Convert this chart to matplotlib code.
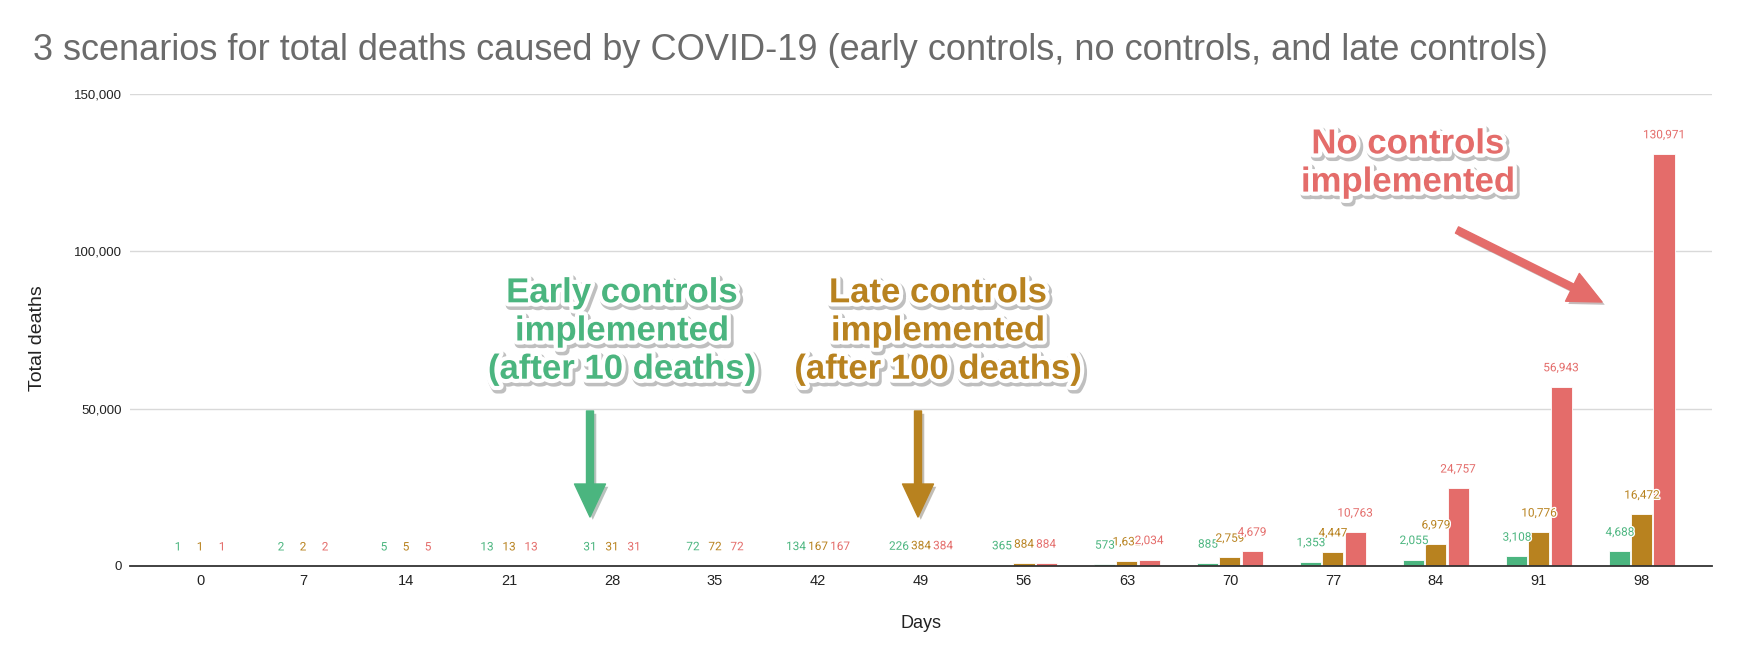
import numpy as np
import matplotlib
matplotlib.use('Agg')
import matplotlib.pyplot as plt
import matplotlib.patheffects as pe
from matplotlib.patches import FancyArrow
from matplotlib.transforms import IdentityTransform
from matplotlib.ticker import FuncFormatter, MultipleLocator

days = [0, 7, 14, 21, 28, 35, 42, 49, 56, 63, 70, 77, 84, 91, 98]
early = [1, 2, 5, 13, 31, 72, 134, 226, 365, 573, 885, 1353, 2055, 3108, 4688]
late = [1, 2, 5, 13, 31, 72, 167, 384, 884, 1632, 2759, 4447, 6979, 10776, 16472]
nocontrol = [1, 2, 5, 13, 31, 72, 167, 384, 884, 2034, 4679, 10763, 24757, 56943, 130971]

green = '#4bb57f'
gold = '#b8821f'
red = '#e46c6a'

W, H = 1743, 662
fig = plt.figure(figsize=(W / 100, H / 100), dpi=100)
ax = fig.add_axes([130 / W, 1 - 566 / H, (1712 - 130) / W, (566 - 94) / H])

ind = np.arange(len(days))
width = 0.204
off = 0.214

series = [(early, green), (late, gold), (nocontrol, red)]
for k, (vals, col) in enumerate(series):
    ax.bar(ind + (k - 1) * off, vals, width, color=col, edgecolor='white', linewidth=0.6, zorder=2)

# data labels, drawn series by series so red ends on top
for k, (vals, col) in enumerate(series):
    for i, v in enumerate(vals):
        ax.annotate('{:,}'.format(v), (ind[i] + (k - 1) * off, v), xytext=(0, 13.7),
                    textcoords='offset points', ha='center', va='center',
                    fontsize=8.5, family='Roboto', color=col, zorder=4,
                    path_effects=[pe.withStroke(linewidth=2, foreground='white')])

ax.set_xlim(-0.68, 14.68)
ax.set_ylim(0, 150000)
ax.set_xticks(ind)
ax.set_xticklabels([str(d) for d in days], fontsize=10.5, family='Liberation Sans', color='#222222')
ax.yaxis.set_major_locator(MultipleLocator(50000))
ax.yaxis.set_major_formatter(FuncFormatter(lambda v, p: '{:,}'.format(int(v))))
for t in ax.get_yticklabels():
    t.set_fontsize(9.5)
    t.set_family('Liberation Sans')
    t.set_color('#222222')
ax.tick_params(axis='both', length=0)
ax.tick_params(axis='y', pad=6)
ax.tick_params(axis='x', pad=6)

ax.set_axisbelow(True)
ax.yaxis.grid(True, color='#d9d9d9', linewidth=1)
for s in ['top', 'left', 'right']:
    ax.spines[s].set_visible(False)
ax.spines['bottom'].set_color('#333333')
ax.spines['bottom'].set_linewidth(1.3)
ax.spines['bottom'].set_zorder(3)

fig.text(33 / W, 1 - 50 / H, '3 scenarios for total deaths caused by COVID-19 (early controls, no controls, and late controls)',
         fontsize=26, family='Liberation Sans', color='#6b6b6b', ha='left', va='center')
fig.text(38 / W, 1 - 338 / H, 'Total deaths', rotation=90, fontsize=14, family='Liberation Sans',
         color='#222222', ha='center', va='center')
fig.text(921 / W, 1 - 623 / H, 'Days', fontsize=13, family='Liberation Sans',
         color='#222222', ha='center', va='center')

big_fx = [pe.Stroke(linewidth=7, foreground='#00000040', offset=(1.5, -2)),
          pe.Stroke(linewidth=6, foreground='white'), pe.Normal()]

def callout(x, y, txt, col):
    fig.text(x / W, 1 - y / H, txt, fontsize=25, family='Liberation Sans', weight='bold',
             color=col, ha='center', va='center', linespacing=1.2, path_effects=big_fx, zorder=5)

callout(622, 331, 'Early controls\nimplemented\n(after 10 deaths)', green)
callout(938, 331, 'Late controls\nimplemented\n(after 100 deaths)', gold)
callout(1408, 163, 'No controls\nimplemented', red)

arrow_fx = [pe.SimplePatchShadow(offset=(2, -2), alpha=0.3), pe.Normal()]

def arrow(x0, y0, x1, y1, col):
    a = FancyArrow(x0, H - y0, x1 - x0, -(y1 - y0), width=7, head_width=31, head_length=33,
                   length_includes_head=True, color=col, transform=IdentityTransform(),
                   joinstyle='round', capstyle='round', path_effects=arrow_fx, zorder=5)
    fig.add_artist(a)

arrow(590, 411, 590, 517, green)
arrow(918, 411, 918, 517, gold)
arrow(1457, 230, 1602, 302, red)

fig.savefig('out.png', dpi=100, facecolor='white')
